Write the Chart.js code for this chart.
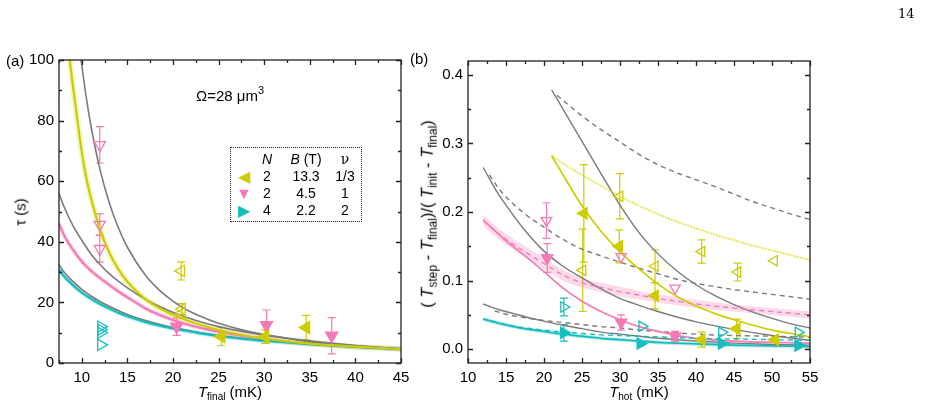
<!DOCTYPE html>
<html>
<head>
<meta charset="utf-8">
<script src="https://cdn.jsdelivr.net/npm/chart.js@4.4.0/dist/chart.umd.min.js"></script>
<style>
body{margin:0;width:926px;height:405px;position:relative;background:#fff;overflow:hidden;font-family:"Liberation Sans",Arial,sans-serif;color:#000}
canvas{position:absolute;top:0}
.t{position:absolute;white-space:nowrap;font-size:15px;line-height:1}
.c{transform:translate(-50%,-50%)}
.r{transform:translate(-50%,-50%) rotate(-90deg)}
sub{font-size:10px;vertical-align:-3px;line-height:0}
sup{font-size:11px;vertical-align:7px;line-height:0}
.big{font-size:16.5px}
.big sub{font-size:12px;vertical-align:-4px}
#leg{position:absolute;left:230px;top:147px;width:130px;height:73px;border:1px dotted #222}
#leg span{position:absolute;width:40px;margin-left:-20px;text-align:center;font-size:14px;line-height:1}
</style>
</head>
<body>
<canvas id="chartA" width="430" height="405" style="left:0"></canvas>
<canvas id="chartB" width="496" height="405" style="left:430px"></canvas>

<div class="t" style="left:898px;top:7px;font-family:'DejaVu Serif',serif;font-size:13px">14</div>
<div class="t" style="left:6px;top:53px">(a)</div>
<div class="t" style="left:410px;top:51px">(b)</div>
<div class="t" style="left:196px;top:88px">Ω=28 μm<sup>3</sup></div>
<div class="t c" style="left:230px;top:391px"><i>T</i><sub>final</sub> (mK)</div>
<div class="t r" style="left:20px;top:212px">τ (s)</div>
<div class="t c" style="left:639px;top:391px"><i>T</i><sub>hot</sub> (mK)</div>
<div class="t r big" style="left:427px;top:214px">( <i>T</i><sub>step</sub> - <i>T</i><sub>final</sub>)/( <i>T</i><sub>init</sub> - <i>T</i><sub>final</sub>)</div>

<div id="leg">
  <span style="left:36px;top:4px"><i>N</i></span>
  <span style="left:75px;top:4px"><i>B</i> (T)</span>
  <span style="left:114px;top:4px;font-family:'DejaVu Serif',serif">ν</span>
  <span style="left:13px;top:21px;color:#cccc00;font-size:16px">◀</span>
  <span style="left:36px;top:21px">2</span>
  <span style="left:75px;top:21px">13.3</span>
  <span style="left:114px;top:21px">1/3</span>
  <span style="left:13px;top:38px;color:#f57ab6;font-size:16px">▼</span>
  <span style="left:36px;top:38px">2</span>
  <span style="left:75px;top:38px">4.5</span>
  <span style="left:114px;top:38px">1</span>
  <span style="left:13px;top:55px;color:#15bdbd;font-size:16px">▶</span>
  <span style="left:36px;top:55px">4</span>
  <span style="left:75px;top:55px">2.2</span>
  <span style="left:114px;top:55px">2</span>
</div>

<script>
// ---------- panel (a): tau vs T_final ----------
const aXTicks = [10, 15, 20, 25, 30, 35, 40, 45];
const aXMinor = [7.5, 12.5, 17.5, 22.5, 27.5, 32.5, 37.5, 42.5];
const aYTicks = [0, 20, 40, 60, 80, 100];
const aYMinor = [10, 30, 50, 70, 90];

const aGrayHiT = [9.92, 10.5, 11, 12, 13, 14, 15, 17, 19, 21, 23, 25, 28, 31, 35, 40, 45];
const aGrayHiTau = [100, 87.4, 78.3, 63.8, 53, 44.7, 38.2, 28.9, 22.7, 18.4, 15.4, 13.1, 10.6, 8.9, 7.0, 5.7, 4.6];
const aYellowT = [8.68, 9, 9.5, 10, 10.5, 11, 11.5, 12, 13, 14, 15, 17, 19, 21, 23, 25, 28, 31, 35, 40, 45];
const aYellowTau = [100, 92, 80.5, 69.5, 61, 54.5, 49, 44, 36.5, 31, 26.8, 21, 17.3, 14.7, 12.6, 10.9, 9.0, 7.7, 6.4, 5.4, 4.6];
const aLowT = [7.5, 8, 9, 10, 11, 12, 13, 14, 15, 17, 19, 21, 23, 25, 28, 31, 35, 40, 45];
const aGrayMidTau = [56, 52, 45.5, 40.5, 36, 32.5, 29.5, 27, 24.8, 21, 18, 15.6, 13.6, 12, 10.2, 8.8, 7.3, 5.8, 4.7];
const aPinkTau = [46, 42.5, 37.5, 33.5, 30.5, 28, 25.8, 23.6, 21.7, 18, 15.3, 13.2, 11.6, 10.3, 8.8, 7.6, 6.4, 5.4, 4.6];
const aGrayLowTau = [32.5, 30.2, 27, 24.3, 22.1, 20.3, 18.7, 17.3, 16, 14, 12.4, 11.1, 10, 9.1, 8, 7.2, 6.3, 5.4, 4.6];
const aCyanTau = [31, 28.8, 25.8, 23.2, 21.2, 19.5, 18, 16.6, 15.4, 13.5, 12, 10.8, 9.8, 8.9, 7.9, 7.1, 6.2, 5.3, 4.6];

const aYelFillT = [25.3, 30.1, 34.6];
const aYelFillTau = [8.7, 8.7, 11.7];
const aYelFillErr = [3, 2.2, 4];
const aYelOpenT = [20.9, 21.0, 21.0];
const aYelOpenTau = [30.4, 17.8, 16.6];
const aYelOpenErr = [3, 1.8, 0];
const aPinkFillT = [20.4, 30.25, 37.4];
const aPinkFillTau = [12, 12.5, 9];
const aPinkFillErr = [2.9, 5, 6];
const aPinkOpenT = [11.97, 11.97, 11.97];
const aPinkOpenTau = [72, 45.7, 37.7];
const aPinkOpenErr = [6, 3.5, 4.4];
const aCyanOpenT = [12.1, 12.1, 12.1, 12.1];
const aCyanOpenTau = [12, 11, 10, 6];

// ---------- panel (b): normalised step vs T_hot ----------
const bXTicks = [10, 15, 20, 25, 30, 35, 40, 45, 50, 55];
const bXMinor = [12.5, 17.5, 22.5, 27.5, 32.5, 37.5, 42.5, 47.5, 52.5];
const bYTicks = [0, 0.1, 0.2, 0.3, 0.4];
const bYMinor = [0.05, 0.15, 0.25, 0.35];

const bTopT = [21, 22.5, 25, 27.5, 30, 32.5, 35, 37.5, 40, 42.5, 45, 47.5, 50, 52.5, 55];
const bGraySolidA = [0.378, 0.350, 0.303, 0.256, 0.210, 0.170, 0.139, 0.114, 0.094, 0.078, 0.065, 0.054, 0.045, 0.037, 0.031];
const bYellowSolid = [0.282, 0.254, 0.209, 0.172, 0.142, 0.117, 0.095, 0.077, 0.063, 0.052, 0.043, 0.035, 0.028, 0.023, 0.018];
const bGrayDashAT = [21.7, 23, 25, 27.5, 30, 32.5, 35, 37.5, 40, 42.5, 45, 47.5, 50, 52.5, 55];
const bGrayDashA = [0.370, 0.358, 0.340, 0.320, 0.302, 0.284, 0.269, 0.257, 0.247, 0.237, 0.226, 0.215, 0.206, 0.197, 0.189];
const bYellowDotT = [21, 23, 25, 27.5, 30, 32.5, 35, 37.5, 40, 42.5, 45, 47.5, 50, 52.5, 55];
const bYellowDot = [0.282, 0.267, 0.254, 0.238, 0.223, 0.209, 0.197, 0.186, 0.176, 0.167, 0.159, 0.151, 0.144, 0.137, 0.130];

const bGraySolidBT = [12, 13, 14, 15, 17.5, 20, 22.5, 25, 27.5, 30, 32.5, 35, 37.5, 40, 45, 50, 55];
const bGraySolidB = [0.265, 0.245, 0.226, 0.210, 0.173, 0.143, 0.121, 0.104, 0.088, 0.074, 0.064, 0.055, 0.047, 0.040, 0.029, 0.020, 0.013];
const bGrayDashBT = [12.8, 14, 15, 17.5, 20, 22.5, 25, 27.5, 30, 32.5, 35, 37.5, 40, 45, 50, 55];
const bGrayDashB = [0.254, 0.235, 0.222, 0.197, 0.178, 0.160, 0.146, 0.136, 0.127, 0.118, 0.110, 0.102, 0.096, 0.087, 0.080, 0.073];

const bPinkSolidT = [12, 13, 14, 15, 16, 17.5, 20, 22.5, 25, 27.5, 30, 32.5, 35, 37.5, 40, 45, 50, 55];
const bPinkSolid = [0.188, 0.178, 0.168, 0.158, 0.149, 0.136, 0.113, 0.089, 0.070, 0.055, 0.043, 0.033, 0.026, 0.020, 0.016, 0.012, 0.010, 0.009];
const bPinkDashT = [12, 13, 14, 15, 17.5, 20, 22.5, 25, 27.5, 30, 32.5, 35, 37.5, 40, 45, 50, 55];
const bPinkDash = [0.188, 0.178, 0.168, 0.160, 0.142, 0.125, 0.108, 0.097, 0.090, 0.084, 0.079, 0.074, 0.070, 0.066, 0.060, 0.055, 0.050];
const bPinkBandHi = [0.196, 0.186, 0.176, 0.168, 0.150, 0.133, 0.116, 0.104, 0.097, 0.091, 0.085, 0.080, 0.076, 0.072, 0.065, 0.060, 0.055];
const bPinkBandLo = [0.180, 0.170, 0.160, 0.152, 0.134, 0.117, 0.100, 0.090, 0.083, 0.077, 0.073, 0.068, 0.064, 0.060, 0.055, 0.050, 0.045];

const bGraySolidCT = [12, 14, 16, 18, 20, 22.5, 25, 27.5, 30, 32.5, 35, 40, 45, 50, 55];
const bGraySolidC = [0.066, 0.058, 0.052, 0.046, 0.041, 0.035, 0.030, 0.025, 0.022, 0.019, 0.016, 0.012, 0.009, 0.007, 0.006];
const bGrayDashCT = [13.5, 15, 17.5, 20, 22.5, 25, 27.5, 30, 32.5, 35, 40, 45, 50, 55];
const bGrayDashC = [0.056, 0.051, 0.046, 0.042, 0.039, 0.036, 0.033, 0.031, 0.028, 0.026, 0.022, 0.020, 0.019, 0.0175];
const bCyanSolidT = [12, 14, 16, 18, 20, 22.5, 25, 27.5, 30, 32.5, 35, 40, 45, 50, 55];
const bCyanSolid = [0.044, 0.038, 0.033, 0.029, 0.026, 0.022, 0.019, 0.016, 0.014, 0.012, 0.010, 0.008, 0.006, 0.005, 0.004];
const bCyanDashT = [12, 15, 17.5, 20, 22.5, 25, 27.5, 30, 35, 40, 45, 50, 55];
const bCyanDash = [0.044, 0.036, 0.031, 0.028, 0.025, 0.023, 0.021, 0.020, 0.018, 0.016, 0.015, 0.014, 0.013];

const bYelFillT = [25.24, 29.9, 34.6, 40.75, 45.35, 50.4];
const bYelFill = [0.198, 0.150, 0.078, 0.014, 0.030, 0.014];
const bYelFillErr = [0.071, 0.024, 0.019, 0.011, 0.014, 0];
const bYelOpenT = [25.1, 29.97, 34.61, 40.75, 45.48, 50.3];
const bYelOpen = [0.115, 0.223, 0.121, 0.1425, 0.1125, 0.129];
const bYelOpenErr = [0.06, 0.033, 0.024, 0.017, 0.013, 0];
const bPinkFillT = [20.42, 30.14, 37.24];
const bPinkFill = [0.133, 0.039, 0.019];
const bPinkFillErr = [0.021, 0.011, 0.007];
const bPinkOpenT = [20.33, 30.14, 37.24];
const bPinkOpen = [0.1875, 0.135, 0.089];
const bPinkOpenErr = [0.026, 0, 0];
const bCyanFillT = [22.61, 32.68, 43.38, 53.45];
const bCyanFill = [0.024, 0.0083, 0.0083, 0.0054];
const bCyanFillErr = [0.012, 0, 0, 0];
const bCyanOpenT = [22.61, 32.9, 43.38, 53.45];
const bCyanOpen = [0.0616, 0.0334, 0.0247, 0.0247];
const bCyanOpenErr = [0.013, 0, 0, 0];

const YEL = '#cccc00', PINK = '#f57ab6', CYAN = '#15bdbd', GRAY = '#7b7b7b';
const tickFont = {family: "'Liberation Sans', Arial, sans-serif", size: 15};

function pts(xs, ys) {
	return xs.map((x, i) => ({x: x, y: ys[i]}));
}

function curve(xs, ys, color, width, dash) {
	return {
		data: pts(xs, ys), borderColor: color, borderWidth: width, borderDash: dash || [],
		pointRadius: 0, cubicInterpolationMode: 'monotone', fill: false
	};
}

function marks(xs, ys, errs, color, rot, filled, r) {
	return {
		data: pts(xs, ys), errors: errs, showLine: false, borderColor: color,
		pointStyle: 'triangle', pointRotation: rot, pointRadius: r,
		pointBorderColor: color, pointBorderWidth: 1.3,
		pointBackgroundColor: filled ? color : 'rgba(0,0,0,0)'
	};
}

// error bars drawn through the chart's own scales
const errorBars = {
	id: 'errorBars',
	beforeDatasetsDraw(chart) {
		const ctx = chart.ctx, x = chart.scales.x, y = chart.scales.y;
		ctx.save();
		ctx.lineWidth = 1.2;
		chart.data.datasets.forEach(ds => {
			if (!ds.errors) return;
			ctx.strokeStyle = ds.borderColor;
			ds.data.forEach((p, j) => {
				const e = ds.errors[j];
				if (!e) return;
				const px = x.getPixelForValue(p.x);
				const t = y.getPixelForValue(p.y + e), b = y.getPixelForValue(p.y - e);
				ctx.beginPath();
				ctx.moveTo(px, t); ctx.lineTo(px, b);
				ctx.moveTo(px - 4, t); ctx.lineTo(px + 4, t);
				ctx.moveTo(px - 4, b); ctx.lineTo(px + 4, b);
				ctx.stroke();
			});
		});
		ctx.restore();
	}
};

// box round the plot with inward ticks on all four sides
function frame(xMaj, xMin, yMaj, yMin) {
	return {
		id: 'frame',
		afterDraw(chart) {
			const ctx = chart.ctx, a = chart.chartArea, x = chart.scales.x, y = chart.scales.y;
			ctx.save();
			ctx.strokeStyle = '#222';
			ctx.lineWidth = 1.3;
			ctx.strokeRect(a.left, a.top, a.right - a.left, a.bottom - a.top);
			ctx.beginPath();
			const vt = (vals, len) => vals.forEach(v => {
				const px = Math.round(x.getPixelForValue(v)) + 0.5;
				ctx.moveTo(px, a.bottom); ctx.lineTo(px, a.bottom - len);
				ctx.moveTo(px, a.top); ctx.lineTo(px, a.top + len);
			});
			const ht = (vals, len) => vals.forEach(v => {
				const py = Math.round(y.getPixelForValue(v)) + 0.5;
				ctx.moveTo(a.left, py); ctx.lineTo(a.left + len, py);
				ctx.moveTo(a.right, py); ctx.lineTo(a.right - len, py);
			});
			vt(xMaj, 5); vt(xMin, 3);
			ht(yMaj, 5); ht(yMin, 3);
			ctx.stroke();
			ctx.restore();
		}
	};
}

function axes(xmin, xmax, xt, ymin, ymax, yt, yw, yfmt) {
	return {
		x: {
			type: 'linear', min: xmin, max: xmax,
			afterBuildTicks: s => { s.ticks = xt.map(v => ({value: v})); },
			afterFit: s => { s.height = 42; },
			grid: {display: false, drawTicks: false}, border: {display: false},
			ticks: {font: tickFont, color: '#000', padding: 6, maxRotation: 0, autoSkip: false}
		},
		y: {
			type: 'linear', min: ymin, max: ymax,
			afterBuildTicks: s => { s.ticks = yt.map(v => ({value: v})); },
			afterFit: s => { s.width = yw; },
			grid: {display: false, drawTicks: false}, border: {display: false},
			ticks: {font: tickFont, color: '#000', padding: 5, autoSkip: false, callback: yfmt}
		}
	};
}

new Chart(document.getElementById('chartA'), {
	type: 'line',
	data: {
		datasets: [
			marks(aYelFillT, aYelFillTau, aYelFillErr, YEL, 270, true, 7),
			marks(aYelOpenT, aYelOpenTau, aYelOpenErr, YEL, 270, false, 6.5),
			marks(aPinkFillT, aPinkFillTau, aPinkFillErr, PINK, 180, true, 7),
			marks(aPinkOpenT, aPinkOpenTau, aPinkOpenErr, PINK, 180, false, 6.5),
			marks(aCyanOpenT, aCyanOpenTau, null, CYAN, 90, false, 6.5),
			curve(aYellowT, aYellowTau, YEL, 2.2),
			curve(aGrayHiT, aGrayHiTau, GRAY, 1.6),
			curve(aLowT, aCyanTau, CYAN, 2.2),
			curve(aLowT, aGrayLowTau, GRAY, 1.6),
			curve(aLowT, aPinkTau, PINK, 2.2),
			curve(aLowT, aGrayMidTau, GRAY, 1.6),
			curve(aYellowT, aYellowTau, 'rgba(204,204,0,0.22)', 6),
			curve(aLowT, aPinkTau, 'rgba(245,122,182,0.25)', 4.5),
			curve(aLowT, aCyanTau, 'rgba(21,189,189,0.25)', 4.5)
		]
	},
	options: {
		animation: false, responsive: false,
		layout: {padding: {top: 60, right: 29, left: 0, bottom: 0}},
		plugins: {legend: {display: false}, tooltip: {enabled: false}},
		scales: axes(7.5, 45, aXTicks, 0, 100, aYTicks, 59, v => v)
	},
	plugins: [errorBars, frame(aXTicks, aXMinor, aYTicks, aYMinor)]
});

const pinkBandHi = curve(bPinkDashT, bPinkBandHi, 'rgba(0,0,0,0)', 0);
pinkBandHi.fill = '+1';
pinkBandHi.backgroundColor = 'rgba(245,122,182,0.28)';

new Chart(document.getElementById('chartB'), {
	type: 'line',
	data: {
		datasets: [
			marks(bYelFillT, bYelFill, bYelFillErr, YEL, 270, true, 6.5),
			marks(bYelOpenT, bYelOpen, bYelOpenErr, YEL, 270, false, 6),
			marks(bPinkFillT, bPinkFill, bPinkFillErr, PINK, 180, true, 6.5),
			marks(bPinkOpenT, bPinkOpen, bPinkOpenErr, PINK, 180, false, 6),
			marks(bCyanFillT, bCyanFill, bCyanFillErr, CYAN, 90, true, 6.5),
			marks(bCyanOpenT, bCyanOpen, bCyanOpenErr, CYAN, 90, false, 6),
			curve(bTopT, bYellowSolid, YEL, 1.7),
			curve(bYellowDotT, bYellowDot, 'rgba(222,222,40,0.75)', 2, [2, 1]),
			curve(bCyanSolidT, bCyanSolid, CYAN, 1.8),
			curve(bCyanDashT, bCyanDash, CYAN, 1.4, [5, 4]),
			curve(bPinkSolidT, bPinkSolid, PINK, 1.7),
			curve(bPinkDashT, bPinkDash, PINK, 1.4, [5, 4]),
			curve(bTopT, bGraySolidA, GRAY, 1.4),
			curve(bGrayDashAT, bGrayDashA, GRAY, 1.4, [5, 4]),
			curve(bGraySolidBT, bGraySolidB, GRAY, 1.4),
			curve(bGrayDashBT, bGrayDashB, GRAY, 1.4, [5, 4]),
			curve(bGraySolidCT, bGraySolidC, GRAY, 1.4),
			curve(bGrayDashCT, bGrayDashC, GRAY, 1.4, [5, 4]),
			curve(bCyanSolidT, bCyanSolid, 'rgba(21,189,189,0.25)', 4),
			pinkBandHi,
			curve(bPinkDashT, bPinkBandLo, 'rgba(0,0,0,0)', 0)
		]
	},
	options: {
		animation: false, responsive: false,
		layout: {padding: {top: 61, right: 116, left: 0, bottom: 0}},
		plugins: {legend: {display: false}, tooltip: {enabled: false}},
		scales: axes(10, 55, bXTicks, -0.02, 0.42, bYTicks, 38, v => v.toFixed(1))
	},
	plugins: [errorBars, frame(bXTicks, bXMinor, bYTicks, bYMinor)]
});
</script>
</body>
</html>
